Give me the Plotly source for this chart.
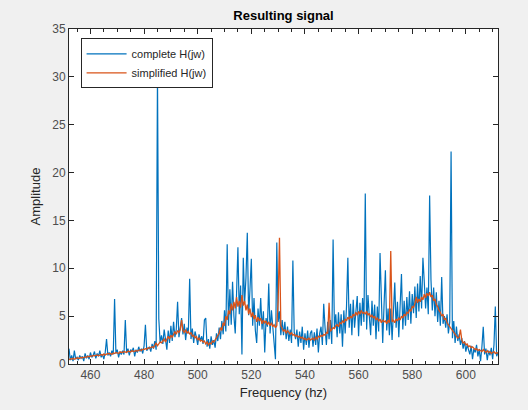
import plotly.graph_objects as go

# Frequency grid (Hz), 0.5 Hz spacing from 452 to 612
freq_start = 452.0
freq_step = 0.5

complete_H = [
    1.6, 0.4, 0.9, 0.3, 1.4, 0.5, 0.7, 0.4, 0.9, 0.6,
    0.8, 0.3, 1.1, 0.6, 0.9, 0.5, 1.2, 0.7, 0.9, 1.3,
    0.6, 1.1, 0.8, 1.4, 0.7, 1.0, 0.5, 1.2, 2.6, 0.9,
    1.2, 0.8, 1.4, 1.0, 6.8, 1.1, 1.5, 0.7, 1.3, 1.0,
    1.4, 1.0, 4.6, 1.2, 1.6, 0.9, 1.5, 1.3, 1.7, 0.8,
    1.5, 1.2, 1.8, 1.3, 1.6, 1.1, 1.9, 4.1, 1.4, 1.6,
    1.8, 1.3, 2.1, 1.6, 2.4, 1.5, 30.3, 4.7, 2.2, 3.0,
    2.1, 3.6, 2.4, 1.5, 3.5, 2.2, 4.0, 2.4, 4.4, 2.8,
    3.6, 6.5, 2.8, 4.0, 4.8, 3.1, 4.2, 2.5, 3.8, 3.2,
    8.9, 2.6, 3.7, 2.2, 3.4, 2.8, 2.0, 3.1, 2.4, 2.9,
    2.1, 4.6, 4.8, 1.8, 2.6, 1.6, 2.9, 2.0, 2.5, 1.7,
    3.2, 2.4, 3.8, 2.6, 4.5, 3.1, 5.6, 3.4, 12.5, 4.0,
    7.8, 4.1, 8.6, 5.0, 3.2, 7.4, 12.2, 5.2, 8.2, 1.0,
    11.1, 6.4, 9.0, 13.7, 5.1, 7.8, 11.0, 4.0, 6.9, 3.5,
    2.2, 5.8, 4.0, 6.9, 3.6, 5.5, 1.2, 4.8, 3.9, 8.4,
    3.2, 5.6, 4.0, 2.8, 0.5, 12.7, 4.4, 5.5, 3.0, 4.6,
    3.0, 4.4, 2.6, 3.9, 2.4, 3.6, 2.2, 10.8, 3.3, 2.6,
    3.6, 1.8, 3.4, 2.2, 3.9, 1.5, 3.2, 2.0, 3.5, 1.7,
    3.2, 3.5, 1.8, 3.3, 2.0, 3.7, 1.2, 3.2, 3.9, 2.0,
    6.3, 3.8, 2.0, 4.4, 2.6, 4.6, 2.1, 13.0, 3.8, 5.2,
    2.8, 5.4, 3.2, 5.2, 1.8, 5.6, 3.2, 6.0, 11.1, 3.8,
    6.3, 3.0, 6.7, 3.8, 5.6, 7.1, 2.9, 6.4, 4.0, 6.9,
    4.4, 17.8, 3.6, 7.2, 5.0, 3.0, 6.6, 4.0, 6.2, 2.6,
    6.0, 3.4, 11.6, 5.3, 2.2, 6.2, 9.8, 3.5, 5.8, 3.0,
    5.8, 2.5, 5.4, 8.5, 3.8, 6.5, 2.8, 6.2, 9.4, 3.6,
    6.6, 4.0, 7.0, 4.6, 7.6, 4.2, 7.3, 5.3, 8.1, 4.8,
    8.4, 5.5, 9.2, 5.8, 11.1, 8.6, 5.8, 8.0, 5.2, 17.6,
    8.8, 5.6, 8.0, 5.0, 7.5, 4.4, 6.6, 4.0, 9.1, 4.2,
    5.0, 3.8, 5.2, 3.2, 4.4, 22.2, 2.7, 4.5, 2.2, 3.9,
    2.4, 3.1, 2.0, 2.7, 1.6, 2.4, 1.3, 2.0, 1.5, 1.0,
    1.9, 0.5, 1.6, 1.2, 2.0, 0.8, 1.5, 0.3, 1.8, 3.9,
    1.0, 1.6, 0.4, 1.4, 0.9, 1.7, 0.5, 2.0, 6.0, 0.8,
    1.2,
]

simplified_H = [
    0.45, 0.55, 0.5, 0.6, 0.5, 0.55, 0.65, 0.6, 0.6, 0.7,
    0.65, 0.7, 0.75, 0.7, 0.8, 0.75, 0.85, 0.8, 0.9, 0.85,
    0.9, 0.95, 0.85, 0.95, 1.0, 0.9, 1.05, 0.95, 1.0, 1.1,
    1.05, 1.1, 1.0, 1.15, 1.1, 1.2, 1.15, 1.1, 1.25, 1.2,
    1.2, 1.3, 1.25, 1.2, 1.35, 1.3, 1.25, 1.4, 1.3, 1.35,
    1.4, 1.35, 1.45, 1.5, 1.4, 1.55, 1.5, 1.6, 1.55, 1.7,
    1.65, 1.75, 1.8, 1.7, 1.95, 2.2, 1.9, 2.1, 2.3, 2.2,
    2.4, 2.6, 2.3, 2.7, 2.9, 2.6, 3.0, 2.8, 3.2, 3.4,
    3.1, 3.5, 3.3, 3.6, 4.6, 3.5, 3.3, 3.6, 3.2, 3.4,
    3.1, 3.3, 2.9, 3.0, 2.7, 2.9, 2.5, 2.7, 2.4, 2.5,
    2.3, 2.4, 2.1, 2.3, 2.0, 2.2, 2.1, 2.4, 2.3, 2.5,
    2.7, 2.9, 3.2, 3.8, 3.5, 4.3, 4.0, 5.0, 4.6, 5.6,
    5.2, 6.3, 5.6, 6.5, 5.8, 7.0, 6.0, 6.6, 5.9, 7.2,
    6.1, 6.6, 5.6, 6.2, 5.2, 5.8, 4.9, 5.4, 4.7, 5.1,
    4.4, 4.9, 4.5, 4.8, 4.2, 4.6, 4.3, 4.5, 4.1, 4.4,
    4.0, 4.3, 3.9, 4.1, 3.8, 4.0, 6.5, 13.2, 4.0, 3.7,
    3.4, 3.6, 3.2, 3.5, 3.3, 3.1, 3.3, 3.0, 3.1, 2.9,
    3.0, 2.8, 2.9, 2.7, 2.8, 2.6, 2.7, 2.5, 2.6, 2.7,
    2.5, 2.6, 2.7, 2.5, 2.8, 2.6, 2.9, 2.8, 3.0, 2.9,
    3.1, 3.0, 3.3, 3.2, 6.4, 3.4, 3.6, 3.8, 3.7, 4.0,
    4.1, 3.9, 4.3, 4.2, 4.5, 4.3, 4.7, 4.5, 4.9, 4.7,
    5.0, 4.8, 5.2, 5.0, 5.4, 5.1, 5.5, 5.2, 5.6, 5.3,
    5.4, 5.2, 5.5, 5.1, 5.3, 4.9, 5.1, 4.8, 5.0, 4.6,
    4.8, 4.5, 4.7, 4.3, 4.6, 4.4, 4.5, 4.2, 4.6, 4.3,
    11.8, 4.4, 4.6, 4.3, 4.7, 4.5, 4.8, 4.6, 5.0, 4.8,
    5.2, 5.0, 5.4, 5.3, 5.7, 5.5, 6.0, 5.9, 6.3, 7.0,
    6.4, 6.8, 6.5, 7.0, 6.7, 7.3, 6.9, 7.4, 7.1, 7.5,
    7.0, 7.2, 6.6, 6.8, 6.2, 6.0, 5.6, 5.4, 5.0, 5.2,
    4.6, 4.8, 4.3, 4.1, 3.8, 3.7, 3.4, 3.3, 3.0, 2.9,
    2.7, 2.8, 3.6, 2.5, 2.2, 2.3, 2.0, 2.1, 1.8, 1.9,
    1.7, 1.8, 1.6, 1.5, 1.6, 1.4, 1.5, 1.4, 1.3, 1.5,
    1.3, 1.2, 1.4, 1.2, 1.3, 1.1, 1.2, 1.3, 1.1, 1.2,
    1.1,
]

x_tick_values = [460, 480, 500, 520, 540, 560, 580, 600]
y_tick_values = [0, 5, 10, 15, 20, 25, 30, 35]

freq = [freq_start + i * freq_step for i in range(len(complete_H))]

axis_color = "#262626"
label_color = "#4d4d4d"
font_family = "Liberation Sans, Arial, sans-serif"

fig = go.Figure()
fig.add_trace(go.Scatter(x=freq, y=complete_H, mode="lines", name="complete H(jw)",
                         line=dict(color="#0072BD", width=1.2)))
fig.add_trace(go.Scatter(x=freq, y=simplified_H, mode="lines", name="simplified H(jw)",
                         line=dict(color="#D95319", width=1.3)))

fig.update_layout(
    width=528, height=410,
    margin=dict(l=69, r=30, t=29, b=42, pad=0),
    paper_bgcolor="#f0f0f0",
    plot_bgcolor="#ffffff",
    font=dict(family=font_family, color=label_color, size=12),
    title=dict(text="<b>Resulting signal</b>", x=(69 + 498) / 2 / 528, xanchor="center",
               y=1 - 15 / 410, yanchor="middle", yref="container",
               font=dict(size=13, color="#000000", family=font_family)),
    showlegend=True,
    legend=dict(x=0.027, y=0.972, xanchor="left", yanchor="top",
                bgcolor="#ffffff", bordercolor=axis_color, borderwidth=1,
                font=dict(size=11, color="#262626", family=font_family),
                tracegroupgap=0, itemwidth=40),
    xaxis=dict(range=[452, 612], tickvals=x_tick_values, ticks="inside", ticklen=5,
               tickcolor=axis_color, showline=True, linecolor=axis_color, linewidth=1,
               mirror="ticks", showgrid=False, zeroline=False,
               tickfont=dict(size=12, color=label_color),
               minor=dict(dtick=5, tick0=460, ticks="inside", ticklen=3, tickcolor=axis_color,
                          showgrid=False),
               title=dict(text="Frequency (hz)", font=dict(size=13, color="#262626"), standoff=6)),
    yaxis=dict(range=[0, 35], tickvals=y_tick_values, ticks="inside", ticklen=5,
               tickcolor=axis_color, showline=True, linecolor=axis_color, linewidth=1,
               mirror="ticks", showgrid=False, zeroline=False,
               tickfont=dict(size=12, color=label_color),
               title=dict(text="Amplitude", font=dict(size=13, color="#262626"), standoff=8)),
)

fig.write_html("out.html")
